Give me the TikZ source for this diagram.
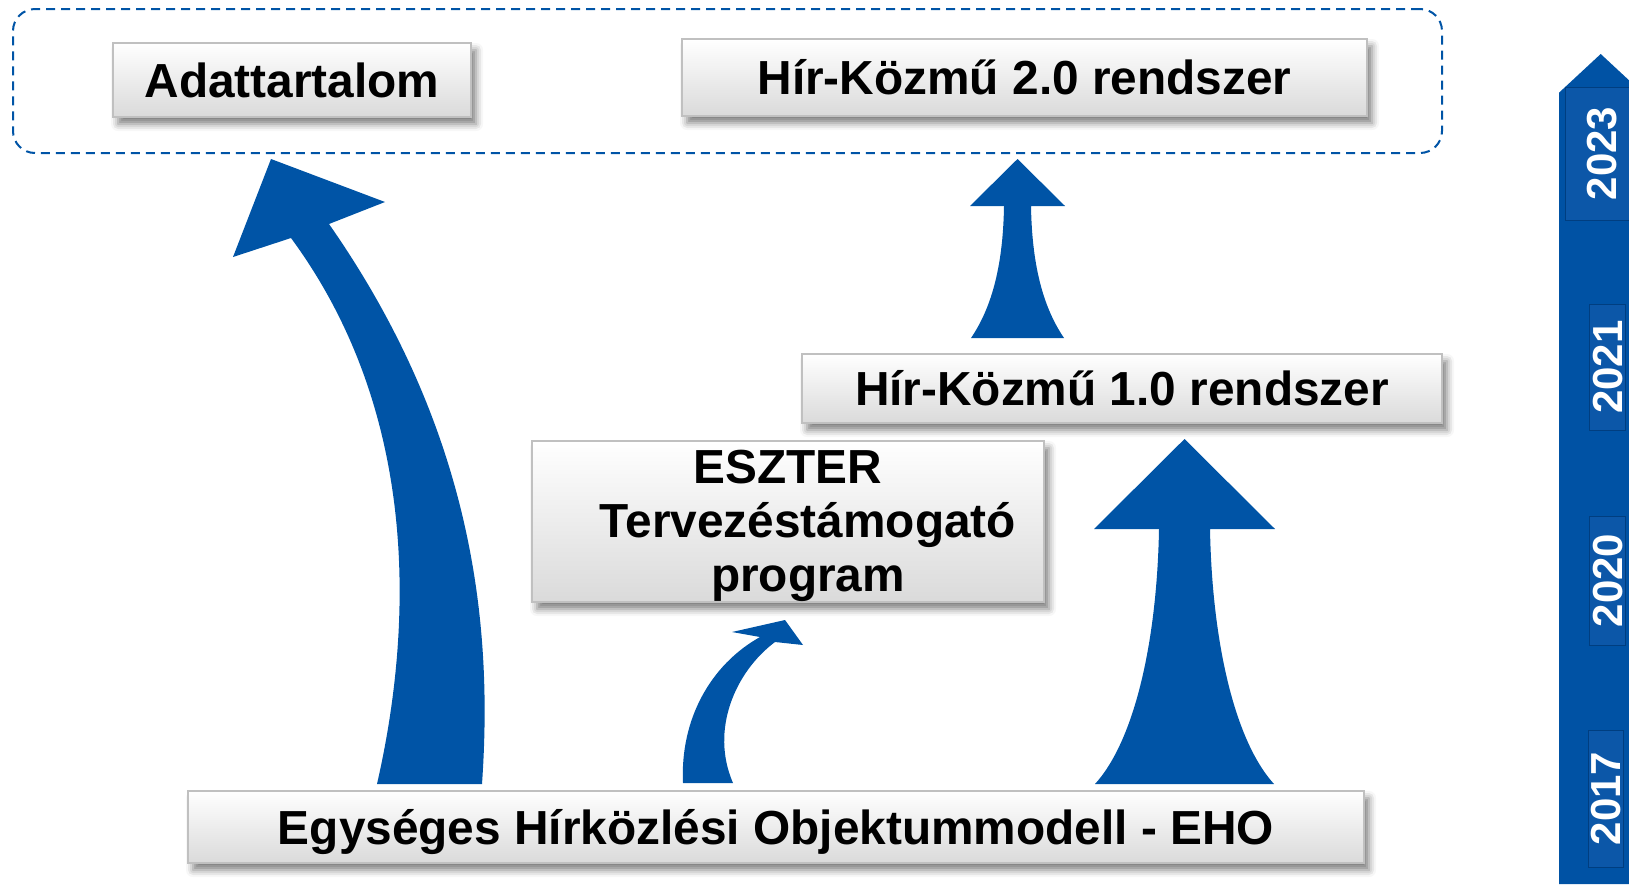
\documentclass[tikz,border=0pt]{standalone}
\usepackage{fontspec}
\setmainfont{Liberation Sans}
\usetikzlibrary{shadows.blur}
\definecolor{ablue}{RGB}{0,84,166}
\definecolor{barblue}{RGB}{0,82,164}
\definecolor{yearfill}{RGB}{12,87,168}
\definecolor{yearedge}{RGB}{0,62,128}
\definecolor{boxedge}{RGB}{192,192,192}
\definecolor{boxbot}{RGB}{218,218,218}
\begin{document}
\begin{tikzpicture}[x=1pt,y=-1pt,
  card/.style={draw=boxedge, line width=2pt, top color=white, bottom color=boxbot, inner sep=0pt,
    blur shadow={shadow xshift=5pt, shadow yshift=-7pt, shadow blur radius=7pt, shadow opacity=50},
    font=\fontsize{47.8}{54}\selectfont\bfseries, text height=34.2pt, text depth=0pt},
  dashbox/.style={draw=ablue, dash pattern=on 9pt off 6pt, line width=2pt, rounded corners=22pt, inner sep=0pt},
  bigarrow/.style={fill=ablue},
  yearnode/.style={rotate=90, fill=yearfill, draw=yearedge, line width=1pt, text=white, inner sep=0pt,
    font=\fontsize{42}{42}\selectfont\bfseries, text height=30pt, text depth=0pt}
]
\useasboundingbox (0,0) rectangle (1629,884);

% dashed group frame
\node[dashbox, minimum width=1429pt, minimum height=144pt] (grp) at (727.5,81) {};

% arrows
\fill[bigarrow] (377,784) .. controls (410,640) and (425,420) .. (291,238)
  -- (233,257) -- (271,159) -- (385,202) -- (329,224)
  .. controls (480,440) and (492,640) .. (482,784) -- cycle;
\fill[bigarrow] (683,783) .. controls (680,720) and (710,665) .. (760,637)
  -- (732,632) -- (785,620) -- (803,645) -- (775,642)
  .. controls (735,672) and (710,730) .. (733,783) -- cycle;
\fill[bigarrow] (1095,784) .. controls (1135,740) and (1157,640) .. (1159,529)
  -- (1094,529) -- (1184.5,439) -- (1275,529) -- (1210,529)
  .. controls (1212,640) and (1234,740) .. (1274,784) -- cycle;
\fill[bigarrow] (971,338) .. controls (990,310) and (1003,270) .. (1004,206)
  -- (970,206) -- (1017.5,159) -- (1065,206) -- (1031,206)
  .. controls (1032,270) and (1045,310) .. (1064,338) -- cycle;

% boxes
\node[card, minimum width=358pt, minimum height=74pt] (adat) at (292,80) {Adattartalom};
\node[card, minimum width=685pt, minimum height=77pt] (hk2) at (1024.5,77.5) {Hír-Közmű 2.0 rendszer};
\node[card, minimum width=640pt, minimum height=69pt] (hk1) at (1122,388.5) {Hír-Közmű 1.0 rendszer};
\node[card, minimum width=512pt, minimum height=161pt] (eszter) at (788,521.5) {};
\node[font=\fontsize{47.8}{54}\selectfont\bfseries, align=center, inner sep=0pt] (eszterlbl) at (788,526)
  {ESZTER\\ \hspace*{40pt}Tervezéstámogató\\ \hspace*{40pt}program};
\node[card, minimum width=1176pt, minimum height=72pt] (eho) at (776,827) {Egységes Hírközlési Objektummodell - EHO};

% timeline bar
\fill[barblue] (1559,92.7) -- (1600.7,54) -- (1629,80.3) -- (1629,884) -- (1559,884) -- cycle;
\node[yearnode, minimum width=133pt, minimum height=73pt] (y2023) at (1601.5,153.5) {2023};
\node[yearnode, minimum width=126pt, minimum height=36pt] (y2021) at (1607,367) {2021};
\node[yearnode, minimum width=129pt, minimum height=36pt] (y2020) at (1607,580.5) {2020};
\node[yearnode, minimum width=137pt, minimum height=35pt] (y2017) at (1605.5,798.5) {2017};
\end{tikzpicture}
\end{document}
